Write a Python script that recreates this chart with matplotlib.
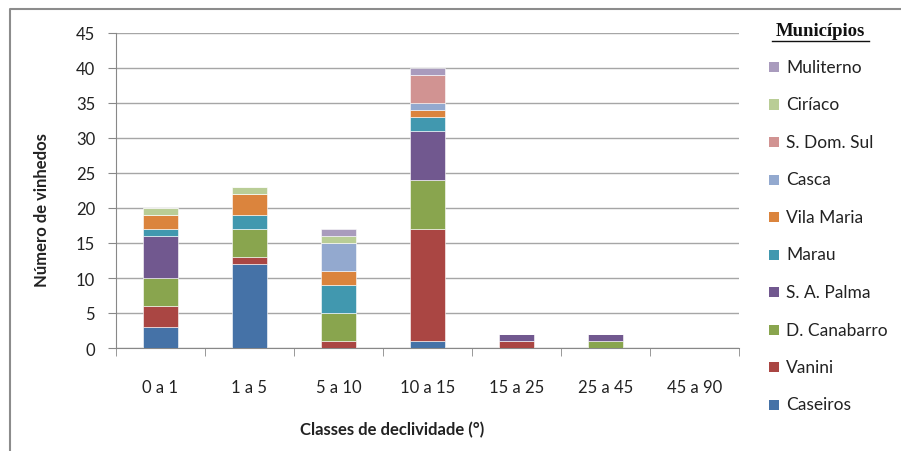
import numpy as np
import matplotlib.pyplot as plt
from matplotlib.lines import Line2D
from matplotlib.patches import Rectangle

# slope classes and number of vineyards per municipality
classes = ["0 a 1", "1 a 5", "5 a 10", "10 a 15", "15 a 25", "25 a 45", "45 a 90"]
caseiros = [3, 12, 0, 1, 0, 0, 0]
vanini = [3, 1, 1, 16, 1, 0, 0]
d_canabarro = [4, 4, 4, 7, 0, 1, 0]
sa_palma = [6, 0, 0, 7, 1, 1, 0]
marau = [1, 2, 4, 2, 0, 0, 0]
vila_maria = [2, 3, 2, 1, 0, 0, 0]
casca = [0, 0, 4, 1, 0, 0, 0]
s_dom_sul = [0, 0, 0, 4, 0, 0, 0]
ciriaco = [1, 1, 1, 0, 0, 0, 0]
muliterno = [0, 0, 1, 1, 0, 0, 0]

names = ["Caseiros", "Vanini", "D. Canabarro", "S. A. Palma", "Marau",
         "Vila Maria", "Casca", "S. Dom. Sul", "Ciríaco", "Muliterno"]
series = [caseiros, vanini, d_canabarro, sa_palma, marau,
          vila_maria, casca, s_dom_sul, ciriaco, muliterno]
colors = ["#4572A7", "#AA4643", "#89A54E", "#71588F", "#4198AF",
          "#DB843D", "#93A9CF", "#D19392", "#B9CD96", "#A99BBD"]

plt.rcParams['font.family'] = ['Lato', 'DejaVu Sans']
W, H = 901, 452
fig = plt.figure(figsize=(W / 100, H / 100), dpi=100)
ax = fig.add_axes([116 / W, 1 - 349 / H, (739 - 116) / W, (349 - 34) / H])

x = np.arange(len(classes))
bottom = np.zeros(len(classes))
for vals, col in zip(series, colors):
    ax.bar(x, vals, 0.4, bottom=bottom, color=col, edgecolor="white", linewidth=0.4, zorder=3)
    bottom += np.array(vals)

ax.set_xlim(-0.5, len(classes) - 0.5)
ax.set_ylim(0, 45)
ax.set_yticks(range(0, 46, 5))
ax.set_xticks(x)
ax.set_xticklabels(classes)
ax.set_xticks(np.arange(-0.5, len(classes), 1), minor=True)
ax.tick_params(axis="x", which="major", length=0, pad=22, labelsize=12, colors="#222222")
ax.tick_params(axis="x", which="minor", length=6, color="#888888")
ax.tick_params(axis="y", length=6, pad=9, labelsize=12, color="#888888", labelcolor="#222222")
ax.grid(axis="y", color="#a6a6a6", linewidth=1, zorder=0)
for s in ["top", "right"]:
    ax.spines[s].set_visible(False)
for s in ["left", "bottom"]:
    ax.spines[s].set_color("#888888")

fig.text(42 / W, 1 - 210 / H, "Número de vinhedos", rotation=90, ha="center", va="center",
         fontsize=12, fontweight="bold", color="#222222")
fig.text(392 / W, 1 - 430 / H, "Classes de declividade (°)", ha="center", va="center",
         fontsize=12, fontweight="bold", color="#222222")

# legend drawn by hand, top entry is the last series
fig.text(820 / W, 1 - 32 / H, "Municípios", ha="center", va="center", fontsize=13.5,
         fontweight="bold", family=["Liberation Serif", "DejaVu Serif"], color="#111111")
fig.add_artist(Line2D([772 / W, 869 / W], [1 - 42 / H, 1 - 42 / H], color="#111111", linewidth=1))
for i, (name, col) in enumerate(zip(names[::-1], colors[::-1])):
    yc = 68 + i * 37.5
    fig.add_artist(Rectangle((769 / W, 1 - (yc + 5) / H), 10 / W, 10 / H,
                             facecolor=col, edgecolor="none", transform=fig.transFigure))
    fig.text(786 / W, 1 - yc / H, name, ha="left", va="center", fontsize=12.5, color="#222222")

# outer chart frame (only left and top visible)
fig.add_artist(Line2D([10 / W, 10 / W, 1], [0, 1 - 10 / H, 1 - 10 / H], color="#8c8c8c", linewidth=1.5))

plt.savefig("out.png", dpi=100)
